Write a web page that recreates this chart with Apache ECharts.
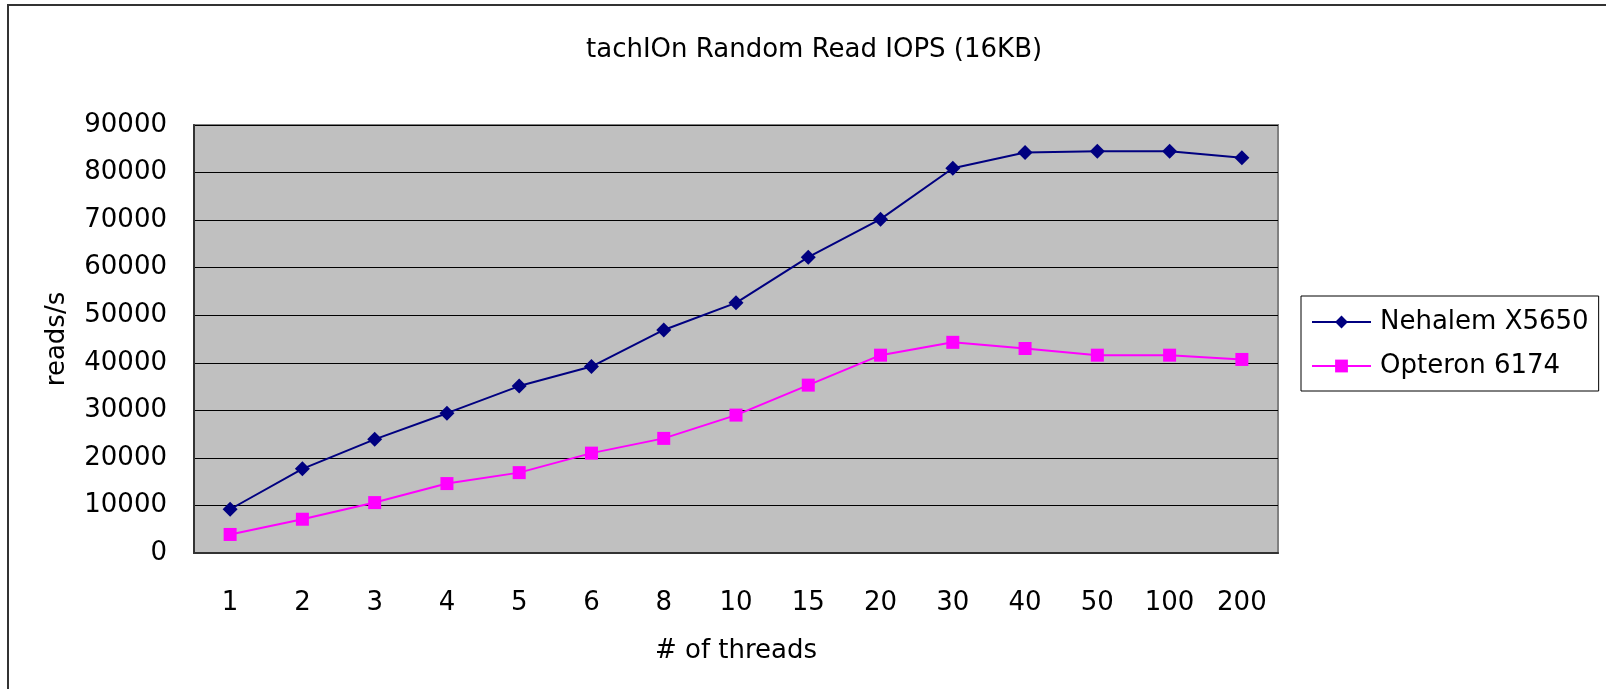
<!DOCTYPE html>
<html>
<head>
<meta charset="utf-8">
<script src="https://cdn.jsdelivr.net/npm/echarts@6/dist/echarts.min.js"></script>
<style>
  html, body { margin: 0; padding: 0; background: #fff; }
  #chart { width: 1606px; height: 689px; }
</style>
</head>
<body>
<div id="chart"></div>
<script>
// スレッド数
const threads = ['1', '2', '3', '4', '5', '6', '8', '10', '15', '20', '30', '40', '50', '100', '200'];
// reads/s
const nehalem = [9200, 17700, 23900, 29400, 35100, 39200, 46900, 52600, 62200, 70200, 80900, 84200, 84500, 84500, 83100];
const opteron = [3900, 7100, 10600, 14600, 16900, 21000, 24100, 29000, 35300, 41600, 44300, 43000, 41600, 41600, 40700];
const yTicks = { min: 0, max: 90000, interval: 10000 };

const font = 'DejaVu Sans';
const chart = echarts.init(document.getElementById('chart'));

const option = {
  animation: false,
  backgroundColor: '#fff',
  textStyle: { fontFamily: font },
  graphic: [
    {
      type: 'rect',
      shape: { x: 8, y: 5, width: 1700, height: 800 },
      style: { fill: 'none', stroke: '#333', lineWidth: 2 },
      silent: true
    }
  ],
  title: {
    text: 'tachIOn Random Read IOPS (16KB)',
    left: 581,
    top: 32,
    textStyle: { fontFamily: font, fontSize: 26, fontWeight: 'normal', color: '#000' }
  },
  legend: {
    orient: 'vertical',
    left: 1301,
    top: 296,
    padding: [13, 10, 12, 10],
    itemWidth: 59,
    itemHeight: 16,
    itemGap: 18,
    borderColor: '#000',
    borderWidth: 1,
    textStyle: { fontFamily: font, fontSize: 26, color: '#000', padding: [0, 0, 0, 4] },
    data: ['Nehalem X5650', 'Opteron 6174']
  },
  grid: {
    left: 194,
    top: 125,
    width: 1084,
    height: 428,
    show: true,
    backgroundColor: '#C0C0C0',
    borderColor: '#808080',
    borderWidth: 2
  },
  xAxis: {
    type: 'category',
    data: threads,
    boundaryGap: true,
    name: '# of threads',
    nameLocation: 'middle',
    nameGap: 85,
    nameTextStyle: { fontFamily: font, fontSize: 26, color: '#000' },
    axisLine: { lineStyle: { color: '#333', width: 2 } },
    axisTick: { inside: true, length: 10, lineStyle: { color: '#333', width: 1 } },
    axisLabel: { fontFamily: font, fontSize: 26, color: '#000', margin: 37, interval: 0 }
  },
  yAxis: {
    type: 'value',
    min: yTicks.min,
    max: yTicks.max,
    interval: yTicks.interval,
    name: 'reads/s',
    nameLocation: 'middle',
    nameRotate: 90,
    nameGap: 124,
    nameTextStyle: { fontFamily: font, fontSize: 26, color: '#000' },
    axisLine: { show: true, lineStyle: { color: '#333', width: 2 } },
    axisTick: { show: false },
    axisLabel: {
      fontFamily: font, fontSize: 26, color: '#000', margin: 27,
      formatter: v => String(v)
    },
    splitLine: { show: true, lineStyle: { color: '#000', width: 1 } }
  },
  series: [
    {
      name: 'Nehalem X5650',
      type: 'line',
      data: nehalem,
      symbol: 'diamond',
      symbolSize: 15,
      lineStyle: { color: '#000080', width: 2 },
      itemStyle: { color: '#000080' }
    },
    {
      name: 'Opteron 6174',
      type: 'line',
      data: opteron,
      symbol: 'rect',
      symbolSize: 13,
      lineStyle: { color: '#FF00FF', width: 2 },
      itemStyle: { color: '#FF00FF' }
    }
  ]
};

chart.setOption(option);
</script>
</body>
</html>
